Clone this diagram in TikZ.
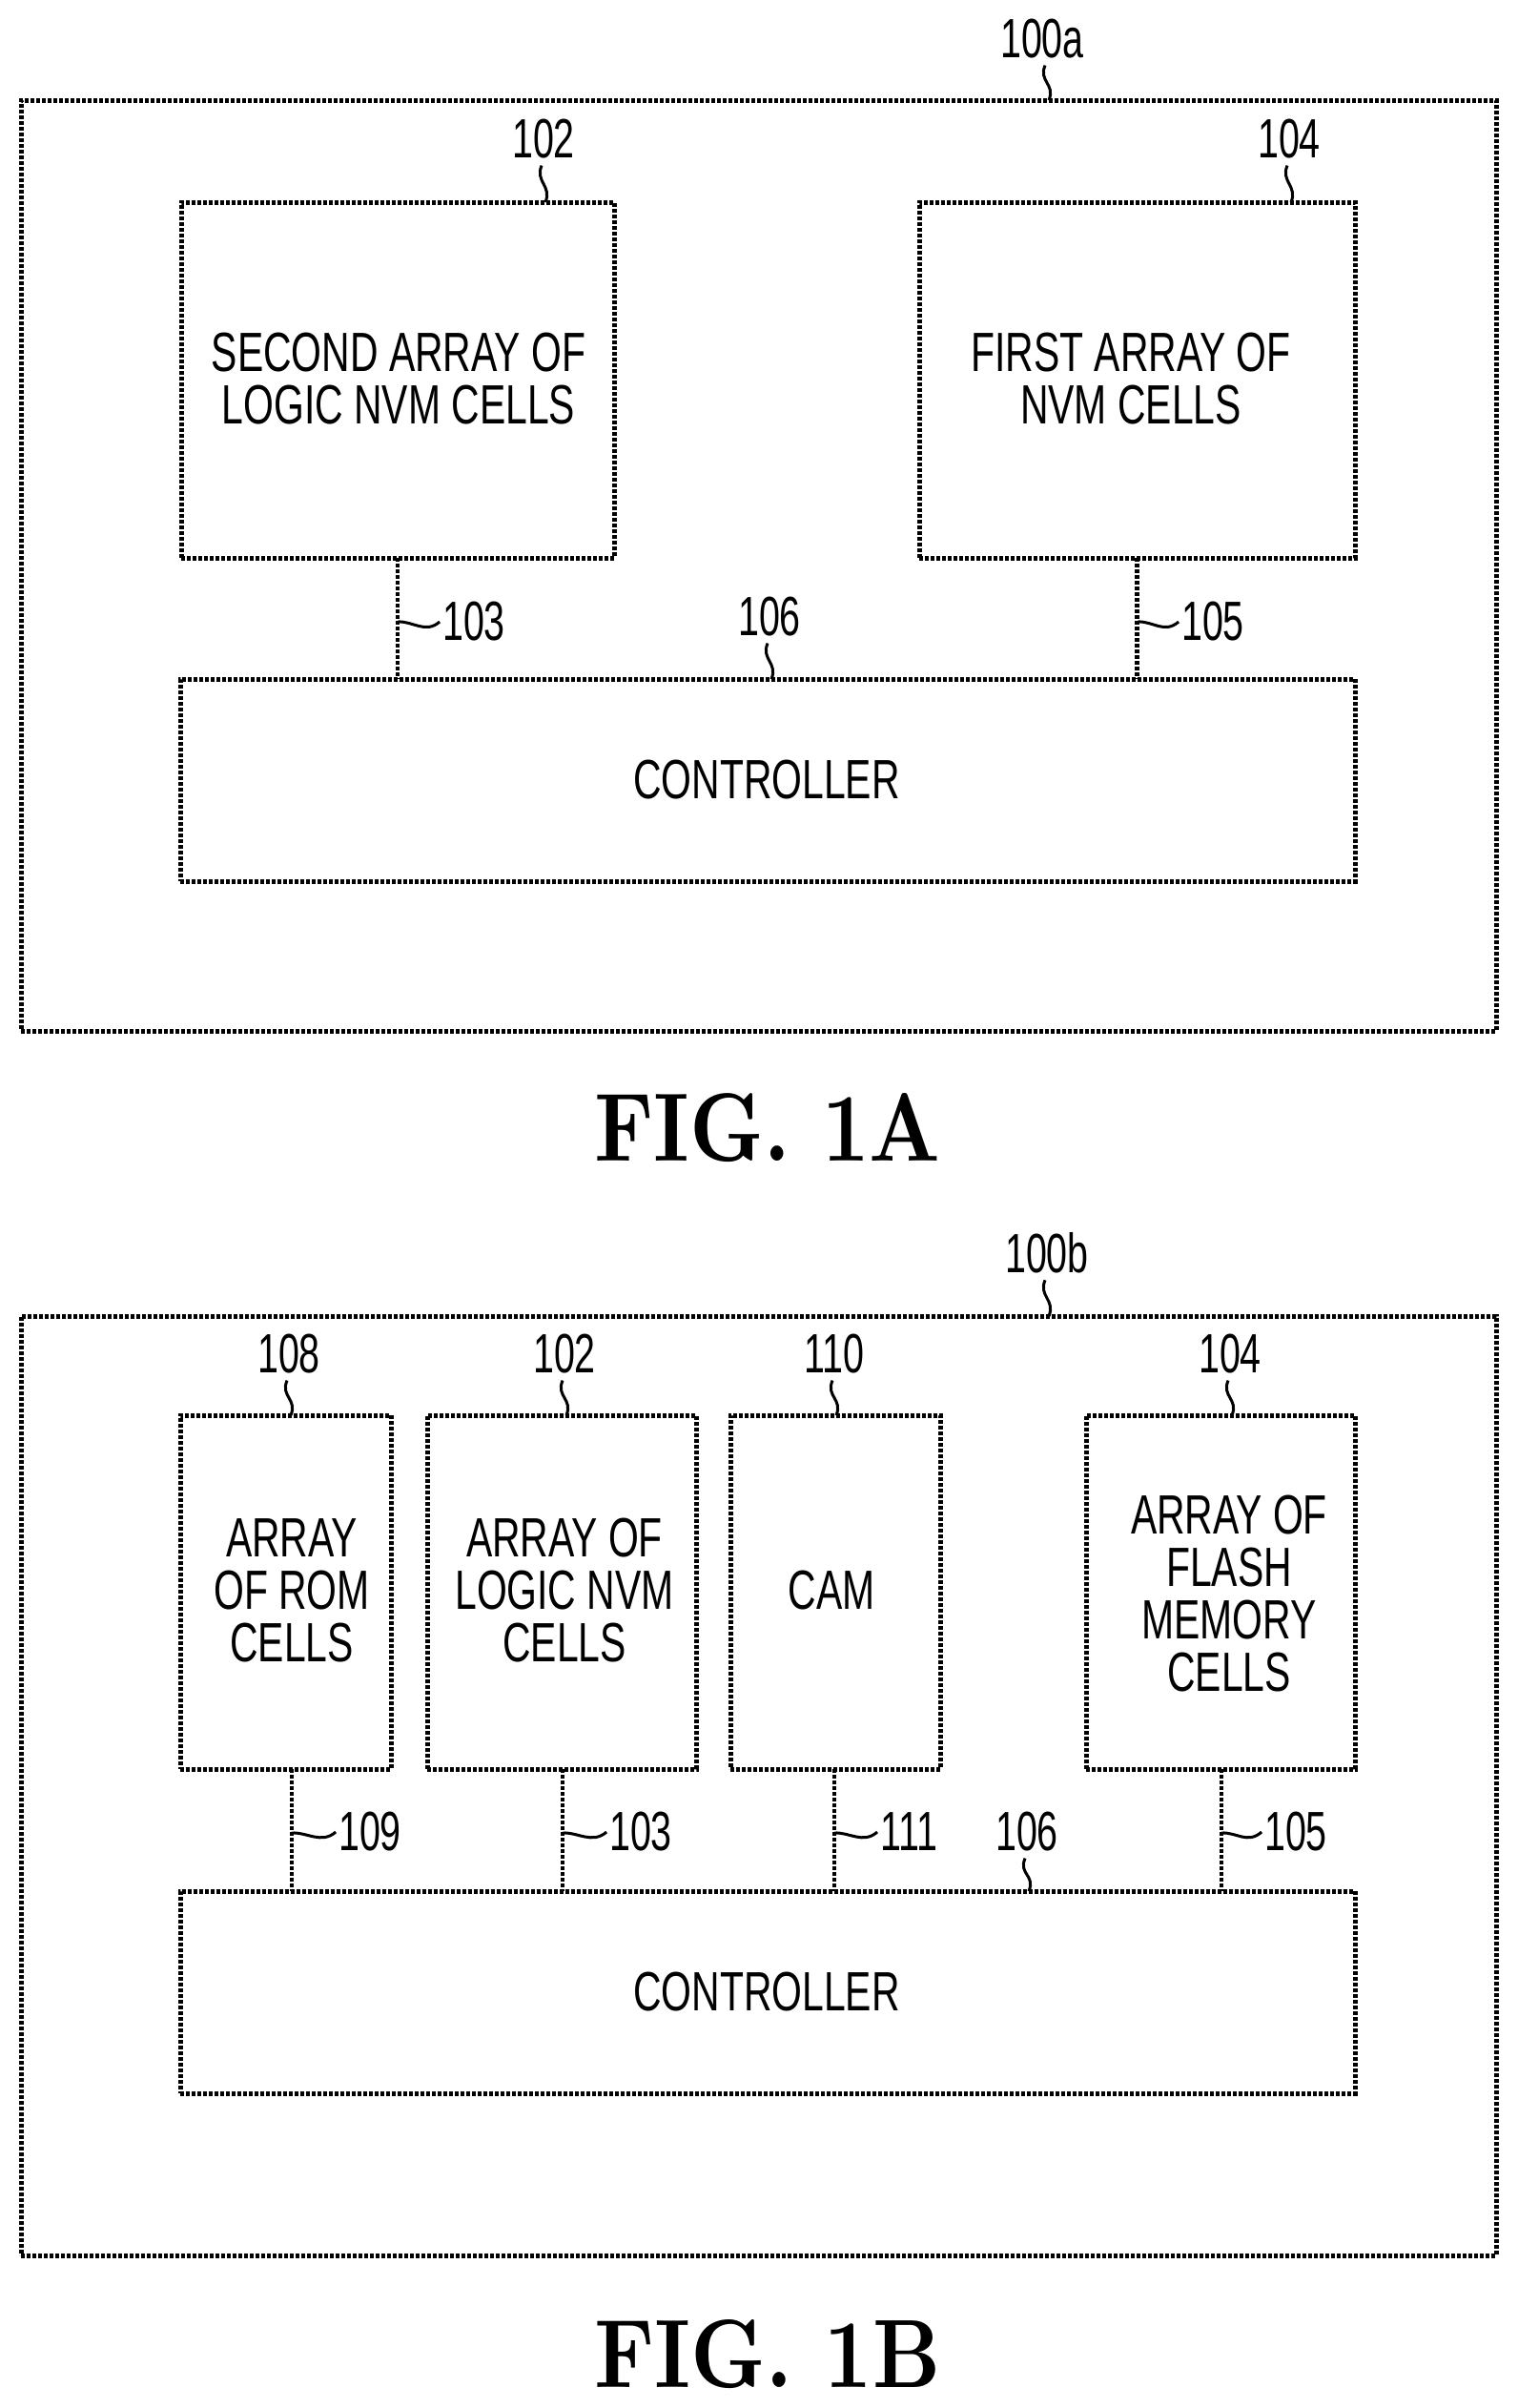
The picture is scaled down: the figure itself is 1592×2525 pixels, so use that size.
\documentclass[tikz,border=0pt]{standalone}
\usepackage{fontspec}
\usepackage{graphicx}
\newfontfamily\labfont[FakeStretch=0.705]{Liberation Sans}
\newfontfamily\numfont[FakeStretch=0.68]{Liberation Sans}
\tikzset{
  x=1pt,y=-1pt,
  frame/.style={draw=black,line width=5pt,dash pattern=on 4pt off 2pt,inner sep=0pt,outer sep=0pt},
  conn/.style={draw=black,line width=4.5pt,dash pattern=on 4pt off 2pt},
  lead/.style={draw=black,line width=3pt},
  leadv/.style={to path={.. controls +(-7,17) and +(7,-17) .. (\tikztotarget)}},
  leadh/.style={to path={.. controls +(16,-1) and +(-15,13) .. (\tikztotarget)}},
  txt/.style={inner sep=0pt,outer sep=0pt,align=center,font=\labfont\fontsize{58}{55}\selectfont},
  num/.style={inner sep=0pt,outer sep=0pt,font=\numfont\fontsize{58}{55}\selectfont},
  ttl/.style={inner sep=0pt,outer sep=0pt}
}
\newcommand{\toplead}[3][0]{\draw[lead] ([xshift=#1pt-2pt,yshift=-7pt]#2.south) to[leadv] ([xshift=#1pt+2pt]#2.south |- #3.north);}
\newcommand{\sidelead}[2]{\draw[lead] (#1) to[leadh] ([xshift=-3pt]#2.west);}
\begin{document}
\begin{tikzpicture}
\useasboundingbox[fill=white] (0,0) rectangle (1592,2525);
% ---------- FIG. 1A ----------
\node[frame,minimum width=1547pt,minimum height=976pt] (aout) at (795.5,593) {};
\node[frame,minimum width=454pt,minimum height=373pt] (a102) at (417,398.5) {};
\node[frame,minimum width=457pt,minimum height=373pt] (a104) at (1192.5,398.5) {};
\node[frame,minimum width=1232pt,minimum height=212pt] (actl) at (805,818) {};
\node[txt] (a102t) at (418,397) {SECOND ARRAY OF\\LOGIC NVM CELLS};
\node[txt] (a104t) at (1186,397) {FIRST ARRAY OF\\NVM CELLS};
\node[txt] (actlt) at (804,818) {CONTROLLER};
\node[num] (l100a) at (1093,41) {100a};
\node[num] (la102) at (570,146) {102};
\node[num] (la104) at (1352,146) {104};
\node[num] (la103) at (497,652) {103};
\node[num] (la105) at (1272,652) {105};
\node[num] (la106) at (807,647) {106};
\draw[conn] (a102.south) -- (a102.south |- actl.north);
\draw[conn] (a104.south) -- (a104.south |- actl.north);
\toplead[5]{l100a}{aout}
\toplead{la102}{a102}
\toplead{la104}{a104}
\toplead{la106}{actl}
\coordinate (ta103) at (417,652);
\coordinate (ta105) at (1193,652);
\sidelead{ta103}{la103}
\sidelead{ta105}{la105}
\node[ttl] (f1a) at (805,1183) {\resizebox{363pt}{71pt}{\bfseries FIG. 1A}};
% ---------- FIG. 1B ----------
\node[frame,minimum width=1547pt,minimum height=985pt] (bout) at (795.5,1872.5) {};
\node[frame,minimum width=221pt,minimum height=371pt] (b108) at (299.5,1669.5) {};
\node[frame,minimum width=282pt,minimum height=371pt] (b102) at (589,1669.5) {};
\node[frame,minimum width=220pt,minimum height=371pt] (b110) at (876,1669.5) {};
\node[frame,minimum width=282pt,minimum height=371pt] (b104) at (1280,1669.5) {};
\node[frame,minimum width=1232pt,minimum height=212pt] (bctl) at (805,2089) {};
\node[txt] (b108t) at (306,1668) {ARRAY\\OF ROM\\CELLS};
\node[txt] (b102t) at (592,1668) {ARRAY OF\\LOGIC NVM\\CELLS};
\node[txt] (b110t) at (872,1668) {CAM};
\node[txt] (b104t) at (1289,1671) {ARRAY OF\\FLASH\\MEMORY\\CELLS};
\node[txt] (bctlt) at (804,2089) {CONTROLLER};
\node[num] (l100b) at (1098,1314) {100b};
\node[num] (lb108) at (303,1420) {108};
\node[num] (lb102) at (592,1420) {102};
\node[num] (lb110) at (875,1420) {110};
\node[num] (lb104) at (1290,1420) {104};
\node[num] (lb109) at (388,1921) {109};
\node[num] (lb103) at (672,1921) {103};
\node[num] (lb111) at (953,1921) {111};
\node[num] (lb106) at (1077,1921) {106};
\node[num] (lb105) at (1359,1921) {105};
\coordinate (tb109) at (306,1922);
\coordinate (tb103) at (590,1922);
\coordinate (tb111) at (875,1922);
\coordinate (tb105) at (1281,1922);
\draw[conn] (tb109 |- b108.south) -- (tb109 |- bctl.north);
\draw[conn] (tb103 |- b102.south) -- (tb103 |- bctl.north);
\draw[conn] (tb111 |- b110.south) -- (tb111 |- bctl.north);
\draw[conn] (tb105 |- b104.south) -- (tb105 |- bctl.north);
\toplead{l100b}{bout}
\toplead{lb108}{b108}
\toplead{lb102}{b102}
\toplead{lb110}{b110}
\toplead{lb104}{b104}
\toplead{lb106}{bctl}
\sidelead{tb109}{lb109}
\sidelead{tb103}{lb103}
\sidelead{tb111}{lb111}
\sidelead{tb105}{lb105}
\node[ttl] (f1b) at (805,2469) {\resizebox{363pt}{71pt}{\bfseries FIG. 1B}};
\end{tikzpicture}
\end{document}
